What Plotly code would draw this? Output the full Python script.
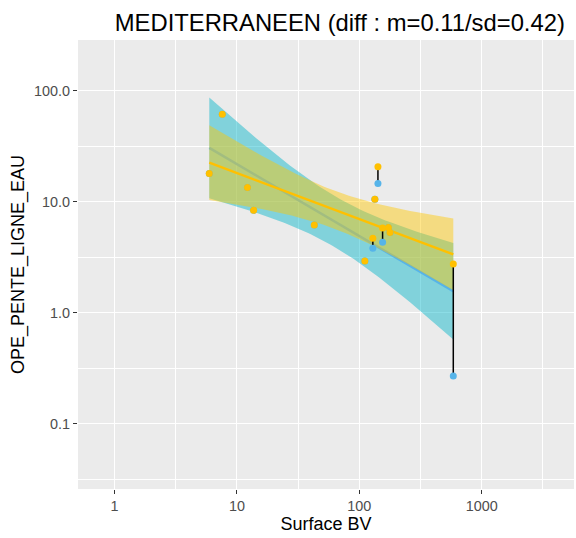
import numpy as np
import plotly.graph_objects as go

# catchment area and slope values
surface = [5.95, 7.6, 12.2, 13.7, 42.9, 111, 129, 134, 142, 155, 173, 178, 586]
obs = [18.0, 61.7, 13.5, 8.4, 6.2, 2.94, 4.7, 10.6, 20.8, 5.83, 5.9, 5.3, 2.76]
pred = [18.0, 61.7, 13.5, 8.4, 6.2, 2.94, 3.83, 10.6, 14.7, 4.33, 5.9, 5.3, 0.27]

title = "MEDITERRANEEN (diff : m=0.11/sd=0.42)"
T_95 = 2.201  # t quantile, df = 11

YEL = "#FFC000"
BLU = "#56B4E9"


def smooth(x, y):
    lx, ly = np.log10(x), np.log10(y)
    b, a = np.polyfit(lx, ly, 1)
    n = len(lx)
    res = ly - (a + b * lx)
    s = np.sqrt((res ** 2).sum() / (n - 2))
    sxx = ((lx - lx.mean()) ** 2).sum()
    gx = np.linspace(lx.min(), lx.max(), 80)
    fit = a + b * gx
    se = s * np.sqrt(1 / n + (gx - lx.mean()) ** 2 / sxx)
    return 10 ** gx, 10 ** fit, 10 ** (fit - T_95 * se), 10 ** (fit + T_95 * se)


x = np.array(surface)
fig = go.Figure()

for yy, band, col in [(np.array(pred), "rgba(0,180,200,0.45)", BLU),
                      (np.array(obs), "rgba(255,200,0,0.45)", YEL)]:
    gx, fit, lo, hi = smooth(x, yy)
    fig.add_trace(go.Scatter(x=gx, y=lo, mode="lines", line=dict(width=0),
                             showlegend=False, hoverinfo="skip"))
    fig.add_trace(go.Scatter(x=gx, y=hi, mode="lines", line=dict(width=0),
                             fill="tonexty", fillcolor=band,
                             showlegend=False, hoverinfo="skip"))
    fig.add_trace(go.Scatter(x=gx, y=fit, mode="lines", line=dict(color=col, width=2.5),
                             showlegend=False, hoverinfo="skip"))

# vertical segments between the two values
sx, sy = [], []
for xi, a, b in zip(surface, pred, obs):
    sx += [xi, xi, None]
    sy += [a, b, None]
fig.add_trace(go.Scatter(x=sx, y=sy, mode="lines", line=dict(color="black", width=1.5),
                         showlegend=False))

fig.add_trace(go.Scatter(x=surface, y=pred, mode="markers",
                         marker=dict(color=BLU, size=7), showlegend=False))
fig.add_trace(go.Scatter(x=surface, y=obs, mode="markers",
                         marker=dict(color=YEL, size=7), showlegend=False))

axis_common = dict(
    type="log", showline=False, zeroline=False, automargin=False,
    gridcolor="white", gridwidth=1.1,
    ticks="outside", ticklen=4, tickcolor="#333333",
    tickfont=dict(color="#4D4D4D", size=14.4),
)

fig.update_xaxes(
    **axis_common,
    range=[-0.298, 3.754],
    tickvals=[1, 10, 100, 1000], ticktext=["1", "10", "100", "1000"],
    minor=dict(tickvals=[10 ** 0.5, 10 ** 1.5, 10 ** 2.5, 10 ** 3.5],
               showgrid=True, gridcolor="white", gridwidth=0.5, ticks=""),
    title=dict(text="Surface BV", font=dict(size=18, color="black"), standoff=2),
)
fig.update_yaxes(
    **axis_common,
    range=[-1.586, 2.459],
    tickvals=[0.1, 1, 10, 100], ticktext=["0.1", "1.0", "10.0", "100.0"],
    minor=dict(tickvals=[10 ** -1.5, 10 ** -0.5, 10 ** 0.5, 10 ** 1.5],
               showgrid=True, gridcolor="white", gridwidth=0.5, ticks=""),
    title=dict(text="OPE_PENTE_LIGNE_EAU", font=dict(size=18, color="black"), standoff=4),
)

fig.update_layout(
    width=576, height=538,
    margin=dict(l=78, r=2, t=40, b=49),
    plot_bgcolor="#EBEBEB", paper_bgcolor="white",
    font=dict(family="Liberation Sans, Arial, sans-serif"),
    title=dict(text=title, x=0.59, xanchor="center", y=0.957, yanchor="middle",
               font=dict(size=23.8, color="black")),
)

fig.write_html("out.html", config={"displayModeBar": False},
               post_script="document.body.style.margin='0';")
